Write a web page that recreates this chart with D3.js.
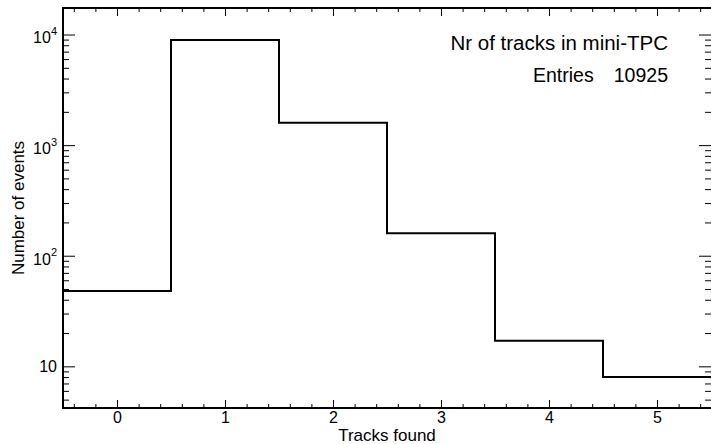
<!DOCTYPE html>
<html>
<head>
<meta charset="utf-8">
<script src="https://cdn.jsdelivr.net/npm/d3@7"></script>
<style>
body { margin:0; background:#fff; }
text { font-family: "Liberation Sans", Arial, sans-serif; fill:#000; }
</style>
</head>
<body>
<div id="chart"></div>
<script>
// histogram contents
let binEdges = [-0.5, 0.5, 1.5, 2.5, 3.5, 4.5, 5.5];
let binCounts = [48, 8900, 1590, 160, 17, 8];
let xTicks = [0, 1, 2, 3, 4, 5];
let yMajorTicks = [10, 100, 1000, 10000];
let yTickBase = ["10", "10", "10", "10"];
let yTickExp = ["", "2", "3", "4"];
let histTitle = "Nr of tracks in mini-TPC";
let entriesLabel = "Entries";
let entriesValue = "10925";

let svgWidth = 711;
let svgHeight = 444;

let margin = {
    top: 8,
    right: 0,
    bottom: 36,
    left: 63
};

let width = svgWidth - margin.left - margin.right;
let height = svgHeight - margin.top - margin.bottom;

let svg = d3.select("#chart")
    .append("svg")
    .attr("width", svgWidth)
    .attr("height", svgHeight);

let chartGroup = svg.append("g")
    .attr("transform", `translate(${margin.left}, ${margin.top})`);

let xScale = d3.scaleLinear()
    .domain([-0.5, 5.5])
    .range([0, width]);

let yScale = d3.scaleLog()
    .domain([4.2, 17370])
    .range([height, 0]);

// minor ticks every 0.2 on x, 2..9 per decade on y
let xMinor = d3.range(-2, 28).filter(i => i % 5 != 0).map(i => i / 5);
let yMinor = [];
[1, 10, 100, 1000, 10000].forEach(dec => {
    d3.range(2, 10).forEach(m => {
        let v = m * dec;
        if (v > yScale.domain()[0] && v < yScale.domain()[1]) yMinor.push(v);
    });
});

function tickAxis(axis, g) {
    g.call(axis);
    g.select(".domain").remove();
    g.selectAll("line").attr("stroke", "#000").attr("stroke-width", 1);
    return g;
}

// bottom axis
tickAxis(d3.axisBottom(xScale).tickValues(xMinor).tickSize(-4).tickFormat(""),
    chartGroup.append("g").attr("transform", `translate(0,${height})`));
let xAxis = tickAxis(d3.axisBottom(xScale).tickValues(xTicks).tickSize(-8).tickPadding(4).tickFormat(d3.format("d")),
    chartGroup.append("g").attr("transform", `translate(0,${height})`));
xAxis.selectAll("text")
    .attr("font-size", "16px");

// top axis (ticks only)
tickAxis(d3.axisTop(xScale).tickValues(xMinor).tickSize(-4).tickFormat(""), chartGroup.append("g"));
tickAxis(d3.axisTop(xScale).tickValues(xTicks).tickSize(-8).tickFormat(""), chartGroup.append("g"));

// left axis
tickAxis(d3.axisLeft(yScale).tickValues(yMinor).tickSize(-6).tickFormat(""), chartGroup.append("g"));
tickAxis(d3.axisLeft(yScale).tickValues(yMajorTicks).tickSize(-12).tickFormat(""), chartGroup.append("g"));

// right axis (ticks only)
tickAxis(d3.axisRight(yScale).tickValues(yMinor).tickSize(-6).tickFormat(""),
    chartGroup.append("g").attr("transform", `translate(${width},0)`));
tickAxis(d3.axisRight(yScale).tickValues(yMajorTicks).tickSize(-12).tickFormat(""),
    chartGroup.append("g").attr("transform", `translate(${width},0)`));

// y tick labels with exponents
let yLabels = chartGroup.append("g");
yMajorTicks.forEach((v, i) => {
    let t = yLabels.append("text")
        .attr("x", -6)
        .attr("y", yScale(v))
        .attr("dy", yTickExp[i] ? "0.55em" : "0.36em")
        .attr("text-anchor", "end")
        .attr("font-size", "16px");
    t.append("tspan").text(yTickBase[i]);
    if (yTickExp[i]) {
        t.append("tspan")
            .attr("font-size", "11px")
            .attr("dy", "-0.75em")
            .text(yTickExp[i]);
    }
});

// frame: left, top, bottom
chartGroup.append("path")
    .attr("d", `M${width},0H0V${height}H${width}`)
    .attr("fill", "none")
    .attr("stroke", "#000")
    .attr("stroke-width", 2);

// histogram outline
let points = binCounts.map((c, i) => [binEdges[i], c]);
points.push([binEdges[binEdges.length - 1], binCounts[binCounts.length - 1]]);

let histLine = d3.line()
    .x(d => xScale(d[0]))
    .y(d => yScale(d[1]))
    .curve(d3.curveStepAfter);

chartGroup.append("path")
    .datum(points)
    .attr("d", histLine)
    .attr("fill", "none")
    .attr("stroke", "#000")
    .attr("stroke-width", 2);

// axis titles
svg.append("text")
    .attr("x", margin.left + width / 2)
    .attr("y", 441)
    .attr("text-anchor", "middle")
    .attr("font-size", "17px")
    .text("Tracks found");

svg.append("text")
    .attr("transform", "rotate(-90)")
    .attr("x", -(margin.top + height / 2))
    .attr("y", 24)
    .attr("text-anchor", "middle")
    .attr("font-size", "17px")
    .text("Number of events");

// stats text
svg.append("text")
    .attr("x", 668)
    .attr("y", 50)
    .attr("text-anchor", "end")
    .attr("font-size", "20.5px")
    .text(histTitle);

svg.append("text")
    .attr("x", 533)
    .attr("y", 82)
    .attr("font-size", "19.5px")
    .text(entriesLabel);

svg.append("text")
    .attr("x", 668)
    .attr("y", 82)
    .attr("text-anchor", "end")
    .attr("font-size", "19.5px")
    .text(entriesValue);
</script>
</body>
</html>
